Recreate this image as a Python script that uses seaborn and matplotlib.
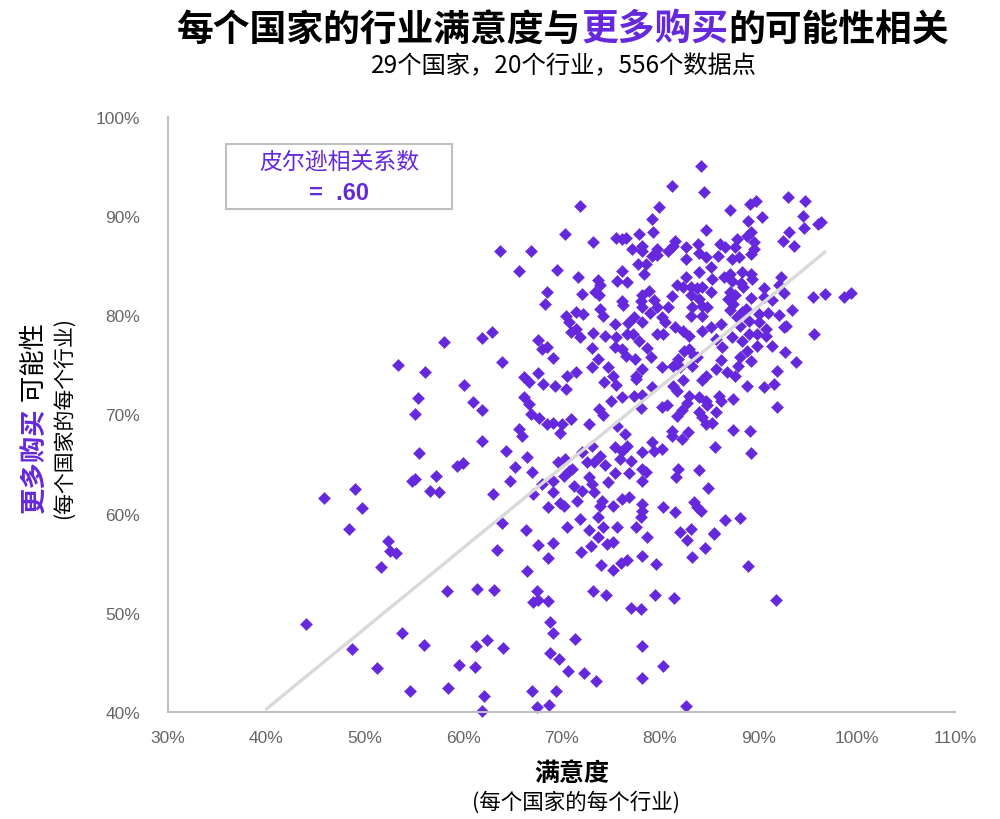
import matplotlib
matplotlib.use("Agg")
import matplotlib.pyplot as plt
import seaborn as sns
import numpy as np
import pandas as pd
from matplotlib.patches import Rectangle

sns.set_theme(style="white")
plt.rcParams['font.family'] = ['Noto Sans CJK SC', 'DejaVu Sans']

PURPLE = "#6528dc"

# ---- data: satisfaction (x, %) and likelihood to buy more (y, %) ----
sat_upper = [71.9, 79.9, 79.2, 79.3, 70.4, 73.2, 75.5, 76.2, 76.6, 77.9,
             63.7, 66.9, 77.2, 78.2, 78.2, 79.2, 79.7, 79.7, 80.8, 65.7,
             69.5, 71.7, 73.7, 73.9, 76.2, 75.6, 76.7, 77.8, 78.6, 78.4,
             68.5, 68.3, 72.1, 73.4, 73.8, 76.1, 76.3, 78.2, 78.9, 78.1,
             79.4, 78.2, 79.7, 79.0, 80.8, 70.5, 71.5, 72.2, 73.9, 74.2,
             70.8, 71.5, 71.0, 75.4, 76.8, 77.4, 78.2, 80.2, 80.5, 80.3,
             79.7, 73.2, 74.4, 71.9, 75.5, 76.7, 77.3, 77.9, 62.9, 61.9,
             67.6, 58.1]
buy_upper = [91.0, 90.9, 89.7, 88.4, 88.2, 87.4, 87.8, 87.7, 87.8, 88.2,
             86.5, 86.5, 86.7, 87.0, 86.5, 86.0, 86.1, 86.7, 86.5, 84.5,
             84.6, 83.9, 83.6, 83.1, 84.5, 83.5, 83.4, 85.2, 85.2, 84.2,
             82.4, 81.1, 82.2, 82.4, 82.1, 81.4, 81.0, 82.1, 82.5, 81.4,
             81.5, 80.8, 80.8, 80.2, 80.8, 79.9, 80.3, 80.1, 80.6, 79.9,
             79.3, 78.6, 78.3, 79.1, 79.2, 79.8, 79.3, 79.8, 79.3, 78.1,
             78.1, 78.2, 77.9, 77.8, 77.8, 78.1, 78.1, 77.4, 78.3, 77.7,
             77.5, 77.3]

sat_upper_right = [84.2, 81.2, 84.5, 93.0, 94.8, 89.2, 89.8, 87.1, 90.4, 89.0,
                   94.5, 96.4, 96.1, 94.7, 84.7, 93.1, 89.3, 88.9, 92.5, 93.6,
                   81.5, 81.3, 82.7, 83.9, 84.0, 86.1, 86.6, 87.8, 87.6, 89.6,
                   89.6, 89.3, 84.7, 85.9, 82.7, 87.3, 88.0, 85.2, 84.0, 86.5,
                   87.1, 87.3, 88.3, 89.3, 89.4, 88.2, 88.5, 82.7, 81.7, 82.3,
                   83.2, 83.8, 84.3, 85.3, 85.2, 92.3, 92.1, 90.6, 92.6, 91.4,
                   90.6, 89.3, 87.1, 87.6, 86.9, 87.4, 83.2, 84.0, 81.2, 83.3,
                   84.3, 84.8, 95.6, 96.8, 93.4, 92.1, 91.0, 90.1, 88.8, 88.3,
                   87.1, 87.8, 83.2, 84.3, 92.8, 92.6, 89.1, 90.1, 88.1, 90.8,
                   86.2, 85.2, 84.3, 81.5, 82.3, 83.0, 95.7, 89.1, 89.9, 90.8,
                   87.3, 85.7, 88.3, 98.7, 99.4]
buy_upper_right = [95.1, 93.0, 92.4, 91.9, 91.5, 91.2, 91.5, 90.6, 89.9, 89.5,
                   90.0, 89.4, 89.2, 88.8, 88.6, 88.4, 88.4, 88.0, 87.5, 87.0,
                   87.5, 87.0, 86.9, 87.2, 86.3, 87.2, 86.9, 87.7, 86.9, 87.4,
                   86.7, 86.2, 85.9, 86.0, 85.7, 85.7, 85.9, 84.9, 84.4, 83.9,
                   84.2, 83.5, 84.4, 84.2, 83.7, 83.3, 82.9, 83.9, 83.1, 82.9,
                   82.9, 82.8, 82.9, 83.7, 82.4, 83.9, 83.1, 82.8, 82.3, 81.5,
                   81.8, 81.7, 82.4, 82.1, 81.6, 81.1, 82.1, 81.6, 81.9, 80.8,
                   80.9, 80.8, 81.8, 82.2, 80.5, 80.0, 80.2, 80.1, 80.6, 80.3,
                   80.5, 79.8, 79.9, 79.9, 78.9, 78.8, 79.4, 79.3, 78.9, 78.6,
                   79.1, 78.8, 78.4, 78.8, 78.4, 77.9, 78.1, 78.1, 78.1, 77.9,
                   77.8, 77.6, 77.4, 81.8, 82.3]

sat_middle = [64.0, 68.0, 68.5, 69.1, 73.1, 73.7, 73.1, 74.7, 75.4, 76.2,
              76.6, 77.5, 78.7, 79.1, 78.2, 80.2, 67.6, 66.2, 66.7, 68.1,
              69.3, 70.5, 70.6, 71.5, 74.3, 75.2, 75.5, 77.6, 77.6, 79.2,
              77.4, 78.2, 76.2, 75.0, 80.2, 80.7, 78.1, 66.2, 66.7, 73.8,
              74.2, 66.9, 67.7, 68.5, 69.1, 70.0, 71.0, 72.8, 69.8, 65.7,
              66.0, 75.6, 76.5, 61.9, 61.9, 64.4, 66.5, 65.3, 67.0, 64.8,
              63.0, 69.6, 70.4, 72.1, 73.1, 73.9, 72.6, 73.3, 74.4, 75.4,
              76.2, 76.7, 75.9, 77.1, 78.2, 79.2, 80.2, 79.4, 71.1, 70.8,
              70.3, 69.1, 68.0, 75.4, 76.9, 78.2, 78.6, 78.2, 72.8, 74.7,
              71.3, 72.1, 73.1, 73.3, 69.1, 67.1, 69.8, 70.3, 68.6, 71.6,
              74.1, 73.9, 75.2, 76.2, 76.9, 78.2, 78.2, 78.1, 80.3, 71.9,
              73.7, 74.2, 70.6, 72.8, 66.4, 64.0, 75.6, 77.6]
buy_middle = [75.3, 76.6, 76.8, 75.7, 76.7, 75.6, 74.8, 74.8, 76.8, 76.6,
              75.9, 75.6, 76.7, 75.8, 74.6, 74.8, 74.2, 73.8, 73.3, 73.1,
              72.9, 72.6, 73.9, 74.3, 73.3, 73.9, 73.0, 73.9, 73.6, 72.8,
              71.9, 72.0, 71.8, 71.4, 70.8, 71.0, 70.7, 71.8, 71.1, 70.6,
              69.9, 70.1, 69.6, 69.0, 69.1, 69.0, 69.5, 69.0, 68.1, 68.5,
              67.8, 68.8, 68.0, 70.5, 67.3, 66.3, 65.7, 64.7, 64.2, 63.3,
              62.0, 65.2, 65.5, 66.2, 66.8, 65.8, 65.2, 65.2, 64.9, 66.7,
              66.3, 66.8, 65.5, 65.3, 66.2, 67.2, 66.5, 66.3, 64.5, 64.3,
              63.8, 63.3, 63.0, 64.1, 64.1, 64.5, 64.2, 63.3, 63.7, 63.2,
              62.8, 62.3, 63.0, 62.2, 62.2, 62.0, 61.1, 60.8, 60.7, 61.3,
              61.3, 60.8, 60.8, 61.5, 61.7, 61.0, 60.3, 59.7, 60.7, 59.5,
              59.7, 58.7, 58.7, 58.4, 58.4, 59.1, 58.7, 58.7]

sat_middle_right = [83.0, 82.5, 81.8, 83.5, 83.8, 86.3, 86.2, 85.7, 88.1, 87.9,
                    88.9, 89.3, 89.9, 91.4, 92.7, 93.8, 91.9, 81.3, 82.0, 83.3,
                    86.8, 87.6, 84.7, 84.3, 82.3, 81.3, 81.7, 88.9, 90.6, 91.6,
                    91.9, 87.4, 86.0, 86.2, 83.0, 82.8, 84.0, 84.7, 84.8, 82.2,
                    81.7, 84.0, 85.7, 84.3, 84.7, 85.3, 81.2, 81.2, 82.9, 82.2,
                    87.4, 89.2, 85.6, 89.3, 81.8, 81.6, 84.0, 84.9, 83.5, 83.8,
                    84.2, 81.5, 86.6, 88.1, 83.2, 82.0, 85.5]
buy_middle_right = [76.6, 76.4, 75.6, 75.9, 75.8, 76.8, 75.5, 74.6, 75.8, 74.9,
                    76.4, 75.4, 76.9, 76.9, 76.3, 75.3, 74.4, 74.9, 74.8, 74.9,
                    74.3, 73.9, 73.9, 73.5, 73.5, 72.9, 72.4, 72.9, 72.8, 73.1,
                    70.8, 71.6, 71.9, 71.4, 71.9, 71.2, 71.8, 71.4, 71.0, 70.5,
                    69.8, 70.3, 70.3, 69.7, 69.0, 69.1, 68.3, 67.8, 68.2, 67.5,
                    68.4, 68.3, 66.7, 66.1, 64.5, 63.7, 64.4, 62.6, 61.2, 60.7,
                    60.3, 60.2, 59.4, 59.6, 58.5, 58.2, 58.1]

sat_left = [53.4, 56.1, 60.1, 55.4, 55.1, 61.0, 55.5, 59.4, 60.0, 54.8,
            55.1, 57.2, 56.6, 57.5, 49.0, 45.9, 49.7, 48.4, 52.4, 52.6,
            53.2, 51.7, 58.4, 61.4, 44.0, 53.8, 48.7, 56.0, 51.2, 59.6,
            61.2, 61.3, 54.6, 58.5]
buy_left = [75.0, 74.3, 73.0, 71.7, 70.1, 71.3, 66.1, 64.8, 65.1, 63.3,
            63.5, 63.8, 62.3, 62.2, 62.5, 61.6, 60.6, 58.5, 57.2, 56.2,
            56.0, 54.6, 52.2, 52.4, 48.9, 48.0, 46.4, 46.8, 44.4, 44.7,
            44.5, 46.7, 42.1, 42.4]

sat_lower = [63.4, 67.6, 69.1, 68.6, 66.5, 72.0, 73.0, 73.7, 74.6, 75.2,
             74.0, 75.2, 76.0, 76.7, 78.2, 79.6, 78.7, 63.1, 67.5, 67.1,
             67.6, 68.6, 73.2, 74.5, 77.1, 78.1, 79.5, 68.8, 69.1, 71.4,
             62.4, 64.1, 78.2, 80.3, 68.8, 69.7, 70.7, 72.3, 73.5, 78.2,
             67.0, 69.4, 62.1, 67.5, 68.7, 61.9, 82.8, 84.6, 83.3, 85.5,
             89.0, 81.4, 91.8, 82.7]
buy_lower = [56.3, 56.8, 57.0, 55.5, 54.2, 56.1, 56.7, 57.6, 56.9, 57.1,
             54.8, 54.3, 55.0, 55.3, 55.7, 54.9, 57.6, 52.3, 52.2, 51.1,
             51.3, 51.2, 52.2, 51.8, 50.5, 50.4, 51.8, 49.1, 48.0, 47.4,
             47.3, 46.5, 46.7, 44.6, 45.9, 45.3, 44.1, 43.9, 43.1, 43.4,
             42.1, 42.1, 41.6, 40.5, 40.7, 40.1, 57.3, 56.5, 55.6, 57.9,
             54.7, 51.5, 51.3, 40.6]

trend_x = [40.0, 96.8]
trend_y = [40.3, 86.4]

x_ticks = [30, 40, 50, 60, 70, 80, 90, 100, 110]
y_ticks = [40, 50, 60, 70, 80, 90, 100]

title_parts = [("每个国家的行业满意度与", "black"), ("更多购买", PURPLE), ("的可能性相关", "black")]
subtitle = "29个国家，20个行业，556个数据点"
corr_label = "皮尔逊相关系数"
corr_value = "=  .60"

df = pd.DataFrame({
    "sat": sat_upper + sat_upper_right + sat_middle + sat_middle_right + sat_left + sat_lower,
    "buy": buy_upper + buy_upper_right + buy_middle + buy_middle_right + buy_left + buy_lower,
})

W, H = 1000, 820
fig = plt.figure(figsize=(W / 100, H / 100), dpi=100)
ax = fig.add_axes([168 / W, 1 - 713 / H, (955 - 168) / W, (713 - 118) / H])

sns.scatterplot(data=df, x="sat", y="buy", marker="D", s=38, color=PURPLE,
                edgecolor=PURPLE, linewidth=0.3, ax=ax, clip_on=False, zorder=2)
sns.lineplot(x=trend_x, y=trend_y, color="#d9d9d9", linewidth=2.4, ax=ax, zorder=3)

ax.set_xlim(30, 110)
ax.set_ylim(40, 100)
ax.set_xticks(x_ticks)
ax.set_yticks(y_ticks)
ax.set_xticklabels([f"{t}%" for t in x_ticks])
ax.set_yticklabels([f"{t}%" for t in y_ticks])
ax.tick_params(axis="both", length=0, labelsize=12.5, labelcolor="#666666")
ax.tick_params(axis="x", pad=13)
ax.tick_params(axis="y", pad=20)
for lab in ax.get_xticklabels() + ax.get_yticklabels():
    lab.set_family(["Liberation Sans", "DejaVu Sans"])
for s in ["top", "right"]:
    ax.spines[s].set_visible(False)
for s in ["left", "bottom"]:
    ax.spines[s].set_color("#bfbfbf")
    ax.spines[s].set_linewidth(1.5)
ax.set_xlabel("")
ax.set_ylabel("")
ax.grid(False)

# correlation box
ax.add_patch(Rectangle((226, H - 210), 226, 65, transform=None, facecolor="white",
                       edgecolor="#bfbfbf", linewidth=1.5, zorder=5))
fig.text(339 / W, 1 - 163 / H, corr_label, color=PURPLE, fontsize=16.5,
         ha="center", va="center", zorder=6)
fig.text(339 / W, 1 - 194 / H, corr_value, color=PURPLE, fontsize=17,
         fontweight="bold", ha="center", va="center", zorder=6,
         family=["Liberation Sans", "DejaVu Sans"])

renderer = fig.canvas.get_renderer()


def hstack(parts, cy, cx, size):
    texts = []
    widths = []
    for s, c, w in parts:
        t = fig.text(0, cy, s, color=c, fontsize=size, fontweight=w, ha="left", va="center")
        widths.append(t.get_window_extent(renderer).width)
        texts.append(t)
    x = cx * W - sum(widths) / 2
    for t, wd in zip(texts, widths):
        t.set_x(x / W)
        x += wd


def vstack(parts, cx, cy, size):
    texts = []
    heights = []
    for s, c, w in parts:
        t = fig.text(cx, 0, s, color=c, fontsize=size, fontweight=w, rotation=90,
                     ha="center", va="bottom")
        heights.append(t.get_window_extent(renderer).height)
        texts.append(t)
    y = cy * H - sum(heights) / 2
    for t, hg in zip(texts, heights):
        t.set_y(y / H)
        y += hg


hstack([(s, c, "bold") for s, c in title_parts], 1 - 30 / H, 563 / W, 26.5)
fig.text(564 / W, 1 - 66 / H, subtitle, fontsize=17.5, color="black", ha="center", va="center")

# y label
vstack([("更多购买", PURPLE, "bold"), (" 可能性", "black", "normal")], 35 / W, 1 - 418 / H, 19)
fig.text(64 / W, 1 - 418 / H, "(每个国家的每个行业)", fontsize=15, rotation=90,
         ha="center", va="center", color="black")

# x label
fig.text(572 / W, 1 - 774 / H, "满意度", fontsize=18, fontweight="bold",
         ha="center", va="center", color="black")
fig.text(576 / W, 1 - 803 / H, "(每个国家的每个行业)", fontsize=15.5,
         ha="center", va="center", color="black")

fig.savefig("out.png", dpi=100, facecolor="white")
